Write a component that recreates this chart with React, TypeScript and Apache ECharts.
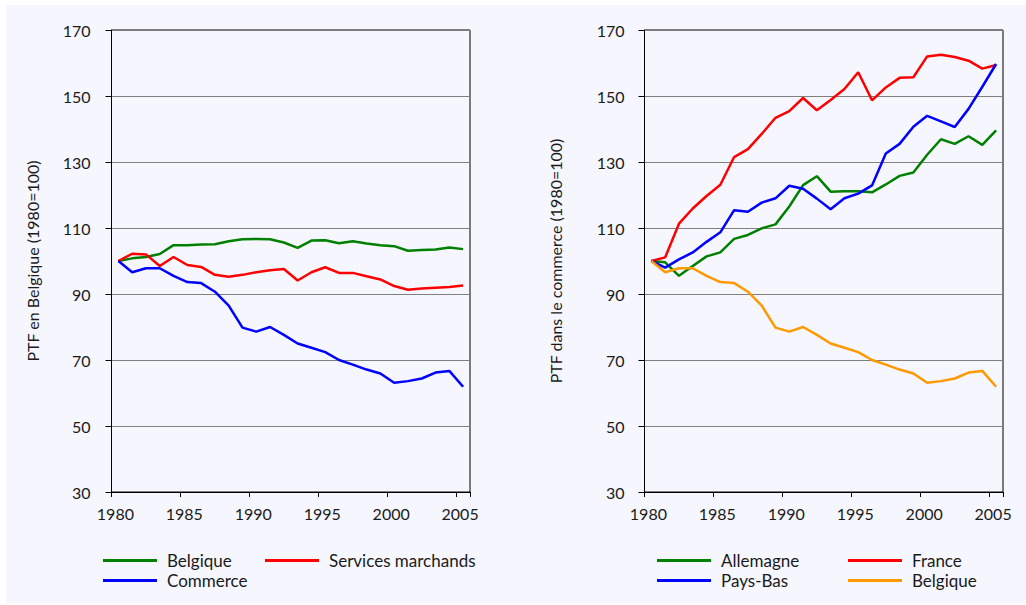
import React, { useEffect, useRef } from "react";
import * as echarts from "echarts";

const years = [
  "1980", "1981", "1982", "1983", "1984", "1985", "1986", "1987", "1988", "1989",
  "1990", "1991", "1992", "1993", "1994", "1995", "1996", "1997", "1998", "1999",
  "2000", "2001", "2002", "2003", "2004", "2005",
];

// Left chart: PTF en Belgique
const belgiqueTotal = [
  100, 100.8, 101.2, 102.1, 104.8, 104.8, 105.0, 105.1, 106.0, 106.6,
  106.7, 106.6, 105.6, 104.0, 106.2, 106.3, 105.4, 106.0, 105.3, 104.8,
  104.5, 103.1, 103.3, 103.5, 104.1, 103.6,
];
const servicesMarchands = [
  100, 102.2, 102.0, 98.5, 101.2, 98.8, 98.2, 95.8, 95.2, 95.8,
  96.6, 97.2, 97.6, 94.1, 96.6, 98.1, 96.4, 96.4, 95.4, 94.4,
  92.4, 91.3, 91.7, 91.9, 92.1, 92.6,
];
const commerceBelgique = [
  100, 96.6, 97.8, 97.8, 95.5, 93.6, 93.3, 90.7, 86.5, 79.8,
  78.6, 80.0, 77.6, 75.0, 73.7, 72.4, 70.0, 68.6, 67.1, 65.9,
  63.1, 63.6, 64.4, 66.2, 66.7, 61.9,
];

// Right chart: PTF dans le commerce
const allemagne = [
  100, 99.6, 95.5, 98.5, 101.4, 102.6, 106.7, 107.9, 109.9, 111.1,
  116.5, 123.0, 125.7, 121.0, 121.1, 121.1, 120.8, 123.2, 125.8, 126.8,
  132.2, 136.9, 135.5, 137.8, 135.2, 139.6,
];
const france = [
  100, 101.1, 111.3, 115.9, 119.7, 123.1, 131.5, 133.9, 138.5, 143.4,
  145.4, 149.4, 145.7, 148.8, 152.1, 157.2, 148.7, 152.6, 155.5, 155.7,
  162.0, 162.5, 161.8, 160.7, 158.3, 159.4,
];
const paysBas = [
  100, 98.0, 100.5, 102.6, 105.8, 108.7, 115.4, 114.9, 117.7, 119.0,
  122.8, 121.9, 118.9, 115.7, 119.0, 120.4, 122.9, 132.6, 135.5, 140.7,
  144.0, 142.3, 140.6, 146.1, 152.8, 159.7,
];

const yMin = 30;
const yMax = 170;
const yStep = 20;

const leftAxisName = "PTF en Belgique (1980=100)";
const rightAxisName = "PTF dans le commerce (1980=100)";

const GREEN = "#008000";
const RED = "#FF0000";
const BLUE = "#0000FF";
const ORANGE = "#FF9900";
const TEXT = "#1a1a1a";
const FONT = "Lato";

export default function App() {
  const ref = useRef<HTMLDivElement>(null);

  useEffect(() => {
    if (!ref.current) return;
    const chart = echarts.init(ref.current, undefined, { renderer: "svg" });

    const xAxisBase = (gridIndex: number) => ({
      type: "category",
      gridIndex,
      data: years,
      boundaryGap: true,
      axisLine: { show: true, lineStyle: { color: "#000", width: 1 } },
      axisTick: { show: true, interval: 4, length: 5, lineStyle: { color: "#000" } },
      axisLabel: {
        interval: 4,
        margin: 13,
        fontFamily: FONT,
        fontSize: 16,
        color: TEXT,
        padding: [0, 6, 0, 0],
      },
      splitLine: { show: false },
    });

    const yAxisBase = (gridIndex: number, name: string, nameGap: number, margin: number) => ({
      type: "value",
      gridIndex,
      min: yMin,
      max: yMax,
      interval: yStep,
      name,
      nameLocation: "middle",
      nameRotate: 90,
      nameGap,
      nameTextStyle: { fontFamily: FONT, fontSize: 16, color: TEXT },
      axisLine: { show: true, lineStyle: { color: "#000", width: 1 } },
      axisTick: { show: true, length: 6, lineStyle: { color: "#000" } },
      axisLabel: { margin, fontFamily: FONT, fontSize: 16, color: TEXT },
      splitLine: { show: true, lineStyle: { color: "#808080", width: 1 } },
    });

    const line = (name: string, data: number[], color: string, idx: number) => ({
      name,
      type: "line",
      xAxisIndex: idx,
      yAxisIndex: idx,
      data,
      symbol: "none",
      lineStyle: { color, width: 2.5 },
      itemStyle: { color },
    });

    const legendItem = (name: string, left: number, top: number) => ({
      data: [name],
      left,
      top,
      padding: 0,
      icon: "rect",
      itemWidth: 54,
      itemHeight: 3,
      selectedMode: false,
      textStyle: { fontFamily: FONT, fontSize: 17, color: TEXT, padding: [0, 0, 0, 5] },
    });

    chart.setOption({
      animation: false,
      backgroundColor: "#ffffff",
      graphic: [
        {
          type: "rect",
          shape: { x: 6, y: 5, width: 1020, height: 598 },
          style: { fill: "#F5F6FE" },
          z: -10,
          silent: true,
        },
      ],
      grid: [
        {
          left: 111.5,
          top: 30,
          width: 358.5,
          height: 462,
          show: true,
          borderColor: "#000",
          borderWidth: 1,
          backgroundColor: "transparent",
        },
        {
          left: 644.5,
          top: 30,
          width: 358.5,
          height: 462,
          show: true,
          borderColor: "#000",
          borderWidth: 1,
          backgroundColor: "transparent",
        },
      ],
      xAxis: [xAxisBase(0), xAxisBase(1)],
      yAxis: [yAxisBase(0, leftAxisName, 71, 21), yAxisBase(1, rightAxisName, 81, 20)],
      legend: [
        legendItem("Belgique", 103, 552),
        legendItem("Services marchands", 265, 552),
        legendItem("Commerce", 103, 572),
        legendItem("Allemagne", 657, 552),
        legendItem("France", 848, 552),
        legendItem("Pays-Bas", 657, 572),
        legendItem("Belgique ", 848, 572),
      ],
      series: [
        line("Belgique", belgiqueTotal, GREEN, 0),
        line("Services marchands", servicesMarchands, RED, 0),
        line("Commerce", commerceBelgique, BLUE, 0),
        line("Allemagne", allemagne, GREEN, 1),
        line("France", france, RED, 1),
        line("Pays-Bas", paysBas, BLUE, 1),
        line("Belgique ", commerceBelgique, ORANGE, 1),
      ],
    });

    return () => chart.dispose();
  }, []);

  return (
    <div
      ref={ref}
      style={{ position: "fixed", left: 0, top: 0, width: 1026, height: 605 }}
    />
  );
}
